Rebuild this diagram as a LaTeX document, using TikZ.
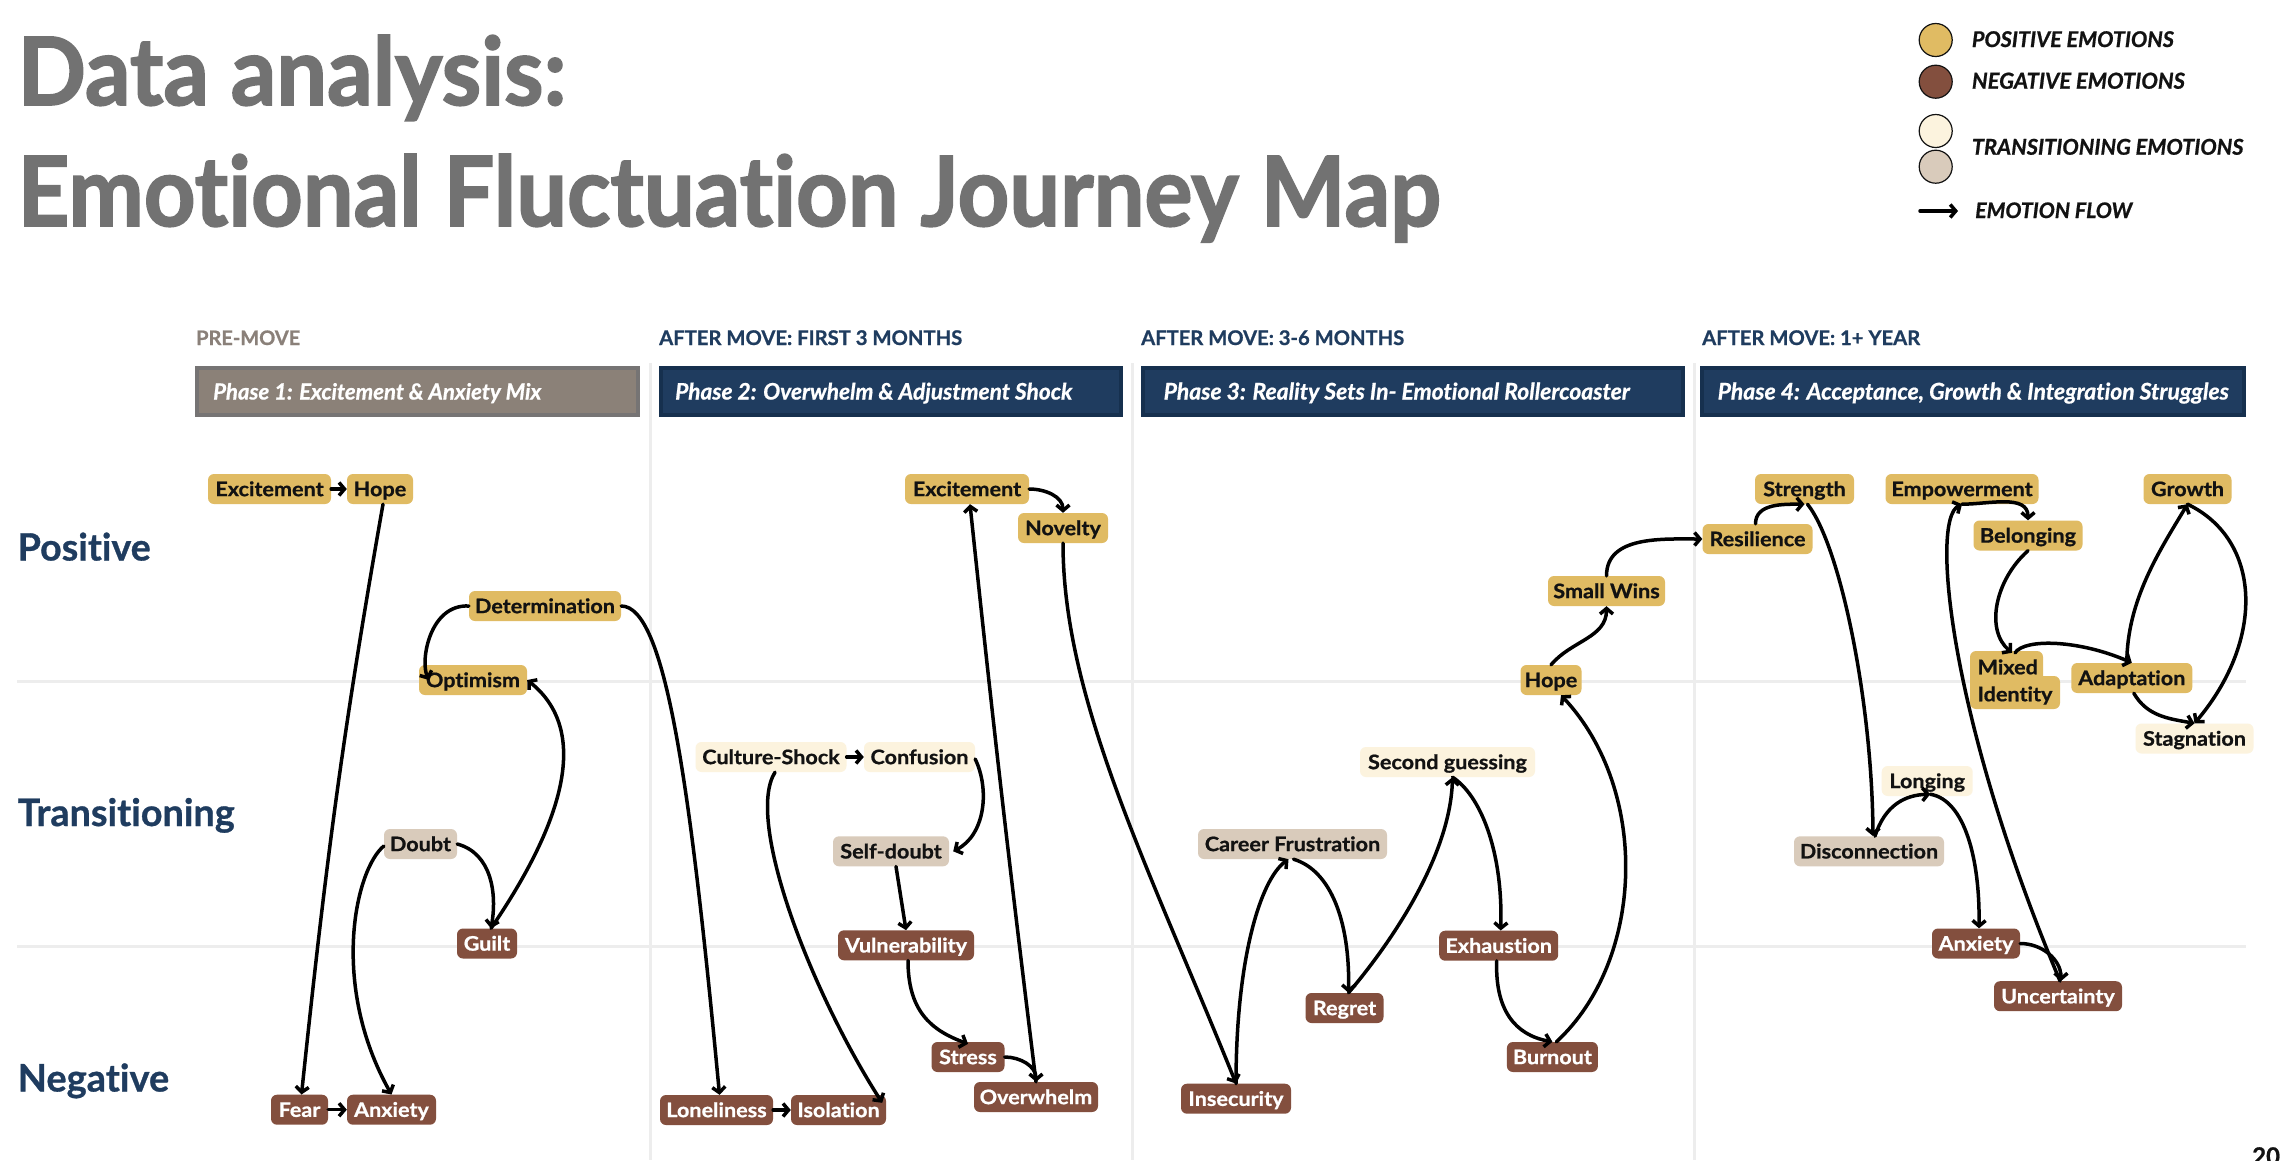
\documentclass[tikz,border=0pt]{standalone}
\usepackage{fontspec}
\usepackage{graphicx}
\setmainfont{Lato}[Ligatures=NoCommon, BoldFeatures={FakeBold=0.8}, BoldItalicFeatures={FakeBold=0.8}]
\newfontfamily\nodefont{Lato}[Ligatures=NoCommon, FakeStretch=1.08, BoldFeatures={FakeBold=0.8}]
\newfontfamily\titlefont{Lato}[Ligatures=NoCommon, BoldFeatures={FakeBold=1.8}]
\usetikzlibrary{arrows.meta}
\definecolor{posc}{HTML}{E0BB63}
\definecolor{negc}{HTML}{834F3E}
\definecolor{tanc}{HTML}{D9CBBB}
\definecolor{crec}{HTML}{FCF3DE}
\definecolor{navy}{HTML}{1F3C5F}
\definecolor{navyb}{HTML}{16304E}
\definecolor{graybox}{HTML}{8B8178}
\definecolor{grayb}{HTML}{767474}
\definecolor{premove}{HTML}{8A8079}
\definecolor{titleg}{HTML}{727272}
\definecolor{gridc}{HTML}{EDEDED}
\definecolor{ink}{HTML}{121212}
\newcommand\fitw[2]{\resizebox{#1}{!}{#2}}
\tikzset{
  emo/.style={rounded corners=6pt, inner sep=0pt, minimum height=30pt, text height=14.3pt, text depth=0pt, font=\nodefont\fontsize{20}{24}\selectfont\bfseries},
  posn/.style={emo, fill=posc, text=ink},
  negn/.style={emo, fill=negc, text=white},
  tann/.style={emo, fill=tanc, text=ink},
  cren/.style={emo, fill=crec, text=ink},
  flow/.style={line width=3.5pt, line cap=round, line join=round, -{Straight Barb[length=5.5pt,width=13pt]}},
  gridline/.style={gridc, line width=3pt},
  phasebox/.style={line width=4pt, minimum height=47pt, inner sep=0pt},
  phasetxt/.style={anchor=base west, inner sep=0pt, text=white, font=\bfseries\itshape},
  hdr/.style={anchor=base west, inner sep=0pt, font=\bfseries},
  rowlab/.style={anchor=base west, inner sep=0pt, text=navy, font=\bfseries},
  legdot/.style={circle, draw=ink, line width=1.2pt, minimum size=33pt, inner sep=0pt},
  legtxt/.style={anchor=base west, inner sep=0pt, text=ink, font=\bfseries\itshape},
}
\begin{document}
\begin{tikzpicture}[x=1pt, y=-1pt]
\useasboundingbox (0,0) rectangle (2286,1160);
\fill[white] (0,0) rectangle (2286,1160);

% title
\node[anchor=base west, inner sep=0pt, text=titleg] (t1) at (17.5,105) {\resizebox{548pt}{70pt}{\titlefont\bfseries Data analysis:}};
\node[anchor=base west, inner sep=0pt, text=titleg] (t2) at (17.5,226) {\resizebox{1422pt}{72pt}{\titlefont\bfseries Emotional Fluctuation Journey Map}};

% legend
\node[legdot, fill=posc] (lg1) at (1935.7,40) {};
\node[legdot, fill=negc] (lg2) at (1935.7,81.7) {};
\node[legdot, fill=crec] (lg3) at (1935.7,131) {};
\node[legdot, fill=tanc] (lg4) at (1935.7,166.7) {};
\node[legtxt] (lt1) at (1971.7,47) {\fitw{202pt}{POSITIVE EMOTIONS}};
\node[legtxt] (lt2) at (1971.7,88.7) {\fitw{213pt}{NEGATIVE EMOTIONS}};
\node[legtxt] (lt3) at (1971.7,154.7) {\fitw{271.5pt}{TRANSITIONING EMOTIONS}};
\node[legtxt] (lt4) at (1975,218) {\fitw{157pt}{EMOTION FLOW}};
\coordinate (la1) at (1920,211);
\coordinate (la2) at (1958,211);
\draw[flow] (la1) -- (la2);

% grid
\draw[gridline] (17,681) -- (2246,681);
\draw[gridline] (17,946) -- (2246,946);
\draw[gridline] (650,363) -- (650,1160);
\draw[gridline] (1132,363) -- (1132,1160);
\draw[gridline] (1694,363) -- (1694,1160);

% phase headers
\node[hdr, text=premove] (h1) at (196,345) {\fitw{104pt}{PRE-MOVE}};
\node[hdr, text=navy] (h2) at (659,345) {\fitw{303pt}{AFTER MOVE: FIRST 3 MONTHS}};
\node[hdr, text=navy] (h3) at (1141,345) {\fitw{263pt}{AFTER MOVE: 3-6 MONTHS}};
\node[hdr, text=navy] (h4) at (1702,345) {\fitw{218pt}{AFTER MOVE: 1+ YEAR}};

\node[phasebox, draw=grayb, fill=graybox, minimum width=441pt] (p1) at (417.5,391.5) {};
\node[phasebox, draw=navyb, fill=navy, minimum width=460pt] (p2) at (891,391.5) {};
\node[phasebox, draw=navyb, fill=navy, minimum width=540pt] (p3) at (1413,391.5) {};
\node[phasebox, draw=navyb, fill=navy, minimum width=542pt] (p4) at (1973,391.5) {};
\node[phasetxt] (pt1) at (213,399.5) {\fitw{328pt}{Phase 1: Excitement \& Anxiety Mix}};
\node[phasetxt] (pt2) at (675,399.5) {\fitw{397pt}{Phase 2: Overwhelm \& Adjustment Shock}};
\node[phasetxt] (pt3) at (1163.5,399.5) {\fitw{466pt}{Phase 3: Reality Sets In- Emotional Rollercoaster}};
\node[phasetxt] (pt4) at (1717.5,399.5) {\fitw{511pt}{Phase 4: Acceptance, Growth \& Integration Struggles}};

% row labels
\node[rowlab] (r1) at (17.5,560.5) {\fitw{133pt}{Positive}};
\node[rowlab] (r2) at (17.5,826) {\fitw{217pt}{Transitioning}};
\node[rowlab] (r3) at (17.5,1091.5) {\fitw{151.5pt}{Negative}};

% ---- Phase 1 nodes
\node[posn, minimum width=123pt] (ex1) at (269.5,489) {Excitement};
\node[posn, minimum width=66pt] (hope1) at (380,489) {Hope};
\node[posn, minimum width=152pt] (det) at (545,606) {Determination};
\node[posn, minimum width=108pt] (opt) at (473,680) {Optimism};
\node[tann, minimum width=73pt] (doubt) at (420.5,844) {Doubt};
\node[negn, minimum width=60pt] (guilt) at (487,943.5) {Guilt};
\node[negn, minimum width=57pt] (fear) at (299.5,1109.7) {Fear};
\node[negn, minimum width=89pt] (anx1) at (391.5,1109.7) {Anxiety};

% ---- Phase 2 nodes
\node[posn, minimum width=124pt] (ex2) at (967,489) {Excitement};
\node[posn, minimum width=90pt] (nov) at (1063,528) {Novelty};
\node[cren, minimum width=151pt] (cs) at (771,757) {Culture-Shock};
\node[cren, minimum width=111pt] (conf) at (919.5,757) {Confusion};
\node[tann, minimum width=116pt] (sd) at (891,851.3) {Self-doubt};
\node[negn, minimum width=136pt] (vul) at (906,945.3) {Vulnerability};
\node[negn, minimum width=73pt] (stress) at (968,1057) {Stress};
\node[negn, minimum width=124pt] (ovw) at (1036,1097) {Overwhelm};
\node[negn, minimum width=113pt] (lone) at (716.5,1110) {Loneliness};
\node[negn, minimum width=95pt] (iso) at (838.5,1110) {Isolation};

% ---- Phase 3 nodes
\node[tann, minimum width=189pt] (cf) at (1292.5,844) {Career Frustration};
\node[cren, minimum width=175pt] (sg) at (1447.5,762) {Second guessing};
\node[negn, minimum width=119pt] (exh) at (1498.7,945.7) {Exhaustion};
\node[negn, minimum width=78pt] (reg) at (1344.5,1008) {Regret};
\node[negn, minimum width=91pt] (burn) at (1552.4,1057) {Burnout};
\node[negn, minimum width=110pt] (insec) at (1236,1098.7) {Insecurity};
\node[posn, minimum width=61pt] (hope3) at (1551,680) {Hope};
\node[posn, minimum width=117pt] (sw) at (1606.5,591) {Small Wins};

% ---- Phase 4 nodes
\node[posn, minimum width=99pt] (str) at (1804.5,489) {Strength};
\node[posn, minimum width=110pt] (res) at (1757.5,539) {Resilience};
\node[posn, minimum width=153pt] (emp) at (1962,489) {Empowerment};
\node[posn, minimum width=109pt] (bel) at (2028,535.5) {Belonging};
\node[posn, minimum width=88pt] (grw) at (2187.5,489) {Growth};
\fill[posc, rounded corners=6pt] (1970,651) rectangle (2043,686);
\fill[posc, rounded corners=6pt] (1970,676) rectangle (2060,709);
\node[inner sep=0pt, align=left, font=\nodefont\fontsize{20}{27}\selectfont\bfseries, text=ink, minimum width=90pt, minimum height=58pt] (mix) at (2015,682) {Mixed\\Identity};
\node[posn, minimum width=121pt] (adp) at (2131.8,678) {Adaptation};
\node[cren, minimum width=118pt] (stag) at (2194.5,738.5) {Stagnation};
\node[cren, minimum width=91pt] (long) at (1927.2,781) {Longing};
\node[tann, minimum width=150pt] (disc) at (1869,851.3) {Disconnection};
\node[negn, minimum width=88pt] (anx4) at (1976,943.5) {Anxiety};
\node[negn, minimum width=128pt] (unc) at (2058,996.2) {Uncertainty};

% page number (cut off at the lower edge, as in the source)
\node[anchor=north west, inner sep=0pt, font=\fontsize{24}{24}\selectfont\bfseries, text=ink] (pg) at (2252,1147) {20};

% ---- Phase 1 edges
\draw[flow] (ex1.east) -- (hope1.west);
\draw[flow] ([xshift=3pt]hope1.south) to[out=-100,in=84] ([xshift=2pt]fear.north);
\draw[flow] (fear.east) -- (anx1.west);
\draw[flow] (doubt.east) to[out=-15,in=80] ([xshift=4pt]guilt.north);
\draw[flow] ([yshift=-2pt]doubt.west) .. controls (355,870) and (330,985) .. (anx1.north);
\draw[flow] ([xshift=4pt]guilt.north) .. controls (565,820) and (590,730) .. (opt.east);
\draw[flow] (det.west) .. controls (430,604) and (420,660) .. ([xshift=10pt]opt.west);
\draw[flow] (det.east) .. controls (665,606) and (690,780) .. ([xshift=3pt]lone.north);

% ---- Phase 2 edges
\draw[flow] (ex2.east) to[out=0,in=90] (nov.north);
\draw[flow] (ovw.north) to[out=97,in=-84] ([xshift=3pt]ex2.south);
\draw[flow] (nov.south) .. controls (1063,700) and (1150,870) .. (insec.north);
\draw[flow] (lone.east) -- (iso.west);
\draw[flow] ([xshift=4pt]cs.south) .. controls (745,820) and (810,990) .. ([xshift=-4pt,yshift=-8pt]iso.north east);
\draw[flow] (cs.east) -- (conf.west);
\draw[flow] ([yshift=-2pt]conf.east) .. controls (990,790) and (985,835) .. ([xshift=4pt]sd.east);
\draw[flow] ([xshift=5pt]sd.south) -- (vul.north);
\draw[flow] ([xshift=2pt]vul.south) .. controls (908,1010) and (930,1030) .. ([yshift=-2pt]stress.north);
\draw[flow] (stress.east) to[out=0,in=90] (ovw.north);

% ---- Phase 3 edges
\draw[flow] (insec.north) .. controls (1236,960) and (1260,880) .. ([xshift=-4pt]cf.south);
\draw[flow] ([xshift=1pt]cf.south) .. controls (1330,870) and (1350,920) .. ([xshift=4pt]reg.north);
\draw[flow] ([xshift=4pt]reg.north) .. controls (1385,950) and (1450,860) .. ([xshift=5pt]sg.south);
\draw[flow] ([xshift=5pt]sg.south) .. controls (1480,795) and (1503,850) .. ([xshift=2pt]exh.north);
\draw[flow] ([xshift=-2pt]exh.south) .. controls (1495,1010) and (1515,1035) .. (burn.north);
\draw[flow] ([xshift=4pt]burn.north) .. controls (1645,960) and (1650,790) .. ([xshift=10pt]hope3.south);
\draw[flow] (hope3.north) to[out=50,in=-90] (sw.south);
\draw[flow] (sw.north) to[out=90,in=180] (res.west);

% ---- Phase 4 edges
\draw[flow] ([xshift=-2pt]res.north) to[out=90,in=180] (str.south);
\draw[flow] ([xshift=3pt]str.south) .. controls (1840,545) and (1872,700) .. ([xshift=4pt]disc.north);
\draw[flow] ([xshift=6pt]disc.north) .. controls (1885,805) and (1905,795) .. ([xshift=3pt,yshift=2pt]long.south);
\draw[flow] ([xshift=3pt,yshift=2pt]long.south) .. controls (1965,800) and (1980,860) .. ([xshift=3pt]anx4.north);
\draw[flow] (anx4.east) to[out=0,in=90] ([xshift=3pt]unc.north);
\draw[flow] ([xshift=2pt]unc.north) .. controls (1950,720) and (1930,520) .. (emp.south);
\draw[flow] (emp.south) to[out=0,in=90] (bel.north);
\draw[flow] (bel.south) .. controls (1995,580) and (1985,630) .. ([xshift=-3pt]mix.north);
\draw[flow] (mix.north) .. controls (2025,638) and (2080,640) .. (adp.north);
\draw[flow] ([xshift=-5pt]adp.north) .. controls (2127,600) and (2160,550) .. (grw.south);
\draw[flow] (grw.south) .. controls (2262,540) and (2265,640) .. (stag.north);
\draw[flow] ([xshift=2pt]adp.south) to[out=-60,in=170] (stag.north);
\end{tikzpicture}
\end{document}
